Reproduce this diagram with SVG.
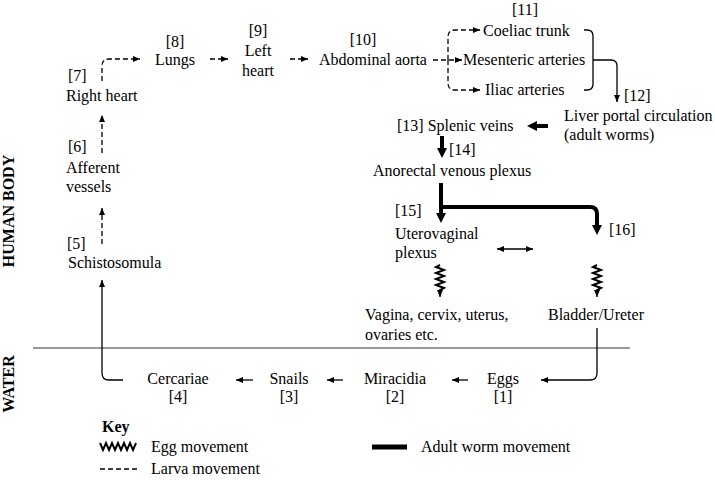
<svg xmlns="http://www.w3.org/2000/svg" width="715" height="480" viewBox="0 0 715 480">
<style>
text{font-family:"Liberation Serif","Times New Roman",serif;font-size:16px;fill:#000}
.m{text-anchor:middle}
.b{font-weight:bold}
.dash{fill:none;stroke:#000;stroke-width:1.3;stroke-dasharray:5,3}
.thin{fill:none;stroke:#000;stroke-width:1.3}
.thick{fill:none;stroke:#000;stroke-width:4}
.egg{fill:none;stroke:#000;stroke-width:2}
</style>
<defs>
<marker id="a" markerUnits="userSpaceOnUse" markerWidth="8" markerHeight="8" refX="7" refY="3" orient="auto"><path d="M0,0 L7,3 L0,6 z"/></marker>
<marker id="as" markerUnits="userSpaceOnUse" markerWidth="8" markerHeight="8" refX="0" refY="3" orient="auto"><path d="M7,0 L0,3 L7,6 z"/></marker>
<marker id="t" markerUnits="userSpaceOnUse" markerWidth="11" markerHeight="11" refX="4" refY="5" orient="auto"><path d="M0,0 L10,5 L0,10 z"/></marker>
</defs>
<rect width="715" height="480" fill="#fff"/>
<text class="b" transform="translate(14,211) rotate(-90)" text-anchor="middle">HUMAN BODY</text>
<text class="b" transform="translate(14,384) rotate(-90)" text-anchor="middle">WATER</text>
<line x1="33" y1="348" x2="630" y2="348" stroke="#777" stroke-width="1.5"/>
<g id="n5"><text x="67" y="249">[5]</text><text x="68" y="268">Schistosomula</text></g>
<g id="n6"><text x="68" y="152">[6]</text><text x="66" y="173">Afferent</text><text x="66" y="192">vessels</text></g>
<g id="n7"><text x="68" y="81">[7]</text><text x="66" y="101">Right heart</text></g>
<g id="n8"><text class="m" x="175" y="47">[8]</text><text class="m" x="175" y="65">Lungs</text></g>
<g id="n9"><text class="m" x="258" y="36">[9]</text><text class="m" x="258" y="56">Left</text><text class="m" x="258" y="76">heart</text></g>
<g id="n10"><text class="m" x="363" y="45">[10]</text><text x="319" y="65">Abdominal aorta</text></g>
<g id="n11"><text class="m" x="525" y="15">[11]</text><text x="483" y="36">Coeliac trunk</text><text x="463" y="65">Mesenteric arteries</text><text x="485" y="95">Iliac arteries</text></g>
<g id="n12"><text x="624" y="101">[12]</text><text x="564" y="121">Liver portal circulation</text><text x="564" y="140">(adult worms)</text></g>
<g id="n13"><text x="397" y="131">[13] Splenic veins</text></g>
<g id="n14"><text x="449" y="155">[14]</text><text x="373" y="176">Anorectal venous plexus</text></g>
<g id="n15"><text x="395" y="216">[15]</text><text x="395" y="239">Uterovaginal</text><text x="395" y="258">plexus</text></g>
<g id="n16"><text x="609" y="235">[16]</text></g>
<g id="vag"><text x="365" y="320">Vagina, cervix, uterus,</text><text x="365" y="340">ovaries etc.</text></g>
<g id="bladder"><text x="548" y="320">Bladder/Ureter</text></g>
<g id="n4"><text class="m" x="178" y="384">Cercariae</text><text class="m" x="178" y="402">[4]</text></g>
<g id="n3"><text class="m" x="289" y="384">Snails</text><text class="m" x="289" y="402">[3]</text></g>
<g id="n2"><text class="m" x="395" y="384">Miracidia</text><text class="m" x="395" y="402">[2]</text></g>
<g id="n1"><text class="m" x="503" y="384">Eggs</text><text class="m" x="503" y="402">[1]</text></g>
<g id="connectors">
<path class="dash" d="M102,244 V208" marker-end="url(#a)"/>
<path class="dash" d="M102,153 V115" marker-end="url(#a)"/>
<path class="dash" d="M102,81 V66 Q102,59 109,59 H140" marker-end="url(#a)"/>
<path class="dash" d="M210,59 H228" marker-end="url(#a)"/>
<path class="dash" d="M290,59 H308" marker-end="url(#a)"/>
<path class="dash" d="M433,60 H462" marker-end="url(#a)"/>
<path class="dash" d="M448,60 V37 Q448,30 455,30 H480" marker-end="url(#a)"/>
<path class="dash" d="M448,60 V83 Q448,90 455,90 H480" marker-end="url(#a)"/>
<path class="thin" d="M584,30 H587 Q593,30 593,36 V84 Q593,90 587,90 H584"/>
<path class="thin" d="M593,60 H611 Q617,60 617,66 V102" marker-end="url(#a)"/>
<path class="thick" d="M548,126 H533" marker-end="url(#t)"/>
<path class="thick" d="M442,136 V152" marker-end="url(#t)"/>
<path class="thick" d="M441,183 V217" marker-end="url(#t)"/>
<path class="thick" d="M441,207 H590 Q597,207 597,214 V229" marker-end="url(#t)"/>
<path class="thin" d="M497,249 H533" marker-start="url(#as)" marker-end="url(#a)"/>
<polyline class="egg" points="440,265 436,267 444,270 436,273 444,276 436,279 444,282 436,285 444,288 440,290 440,292"/>
<path class="thin" d="M440,291 V297" marker-end="url(#a)"/>
<polyline class="egg" points="597,265 593,267 601,270 593,273 601,276 593,279 601,282 593,285 601,288 597,290 597,292"/>
<path class="thin" d="M597,291 V297" marker-end="url(#a)"/>
<path class="thin" d="M597,328 V373 Q597,380 590,380 H541" marker-end="url(#a)"/>
<path class="thin" d="M468,380 H452" marker-end="url(#a)"/>
<path class="thin" d="M343,380 H327" marker-end="url(#a)"/>
<path class="thin" d="M253,380 H236" marker-end="url(#a)"/>
<path class="thin" d="M123,380 H109 Q102,380 102,373 V280" marker-end="url(#a)"/>
</g>
<g id="key">
<text class="b" x="102" y="432">Key</text>
<polyline class="egg" points="100,443 103,450 106,443 109,450 112,443 115,450 118,443 121,450 124,443 127,450 130,443 133,450 136,443"/>
<text x="151" y="452">Egg movement</text>
<line class="dash" x1="100" y1="469" x2="138" y2="469"/>
<text x="151" y="474">Larva movement</text>
<line x1="372" y1="447" x2="407" y2="447" stroke="#000" stroke-width="5"/>
<text x="421" y="452">Adult worm movement</text>
</g>
</svg>
